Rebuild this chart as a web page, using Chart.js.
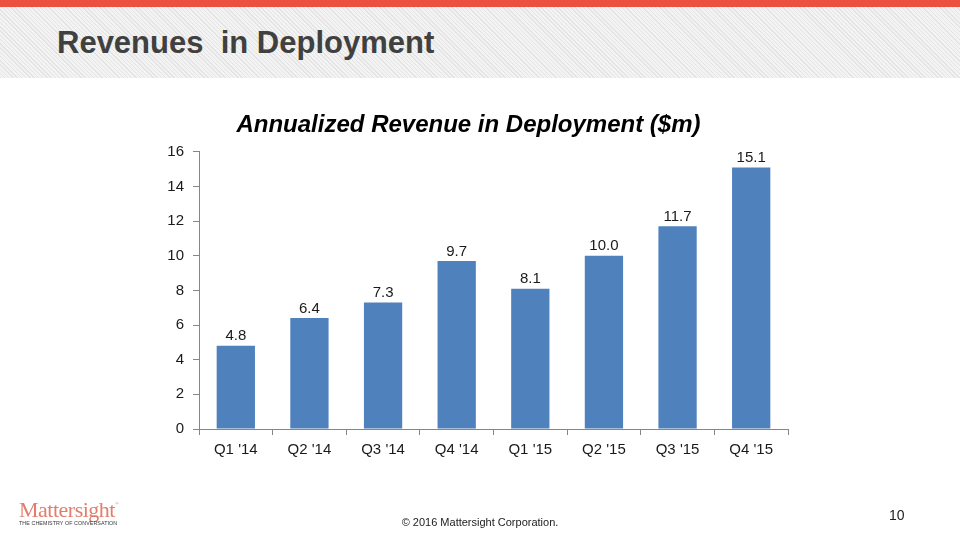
<!DOCTYPE html>
<html>
<head>
<meta charset="utf-8">
<script src="https://cdn.jsdelivr.net/npm/chart.js@4.4.1/dist/chart.umd.min.js"></script>
<style>
  html, body { margin:0; padding:0; background:#fff; }
  #slide { position:relative; width:960px; height:540px; overflow:hidden; background:#fff; font-family:"Liberation Sans", Arial, sans-serif; }
  #topbar { position:absolute; left:0; top:0; width:960px; height:7px; background:#ec5040; }
  #band { position:absolute; left:0; top:7px; width:960px; height:71px;
    background: repeating-linear-gradient(45deg, #e4e4e4 0px, #e4e4e4 1px, #f3f3f3 1px, #f3f3f3 3px); }
  #title { position:absolute; left:57px; top:25px; font-size:31px; font-weight:bold; color:#404040; white-space:pre; letter-spacing:0px; }
  #chart { position:absolute; left:0; top:0; width:960px; height:540px; }
  #logo { position:absolute; left:19px; top:497px; font-family:"Liberation Serif", "Times New Roman", serif; font-size:22px; color:#e27d6c; letter-spacing:-0.5px; }
  #logo sup { font-size:5px; vertical-align:top; position:relative; top:4px; }
  #tag { position:absolute; left:19px; top:520px; font-size:5.3px; color:#333; letter-spacing:0.1px; }
  #copy { position:absolute; left:0; width:960px; top:516px; text-align:center; font-family:"Liberation Sans Narrow","Liberation Sans", sans-serif; font-size:11px; color:#222; }
  #page { position:absolute; left:889px; top:507px; font-family:"Liberation Sans Narrow","Liberation Sans", sans-serif; font-size:14px; color:#222; }
</style>
</head>
<body>
<div id="slide">
  <div id="topbar"></div>
  <div id="band"></div>
  <div id="title">Revenues  in Deployment</div>
  <canvas id="chart" width="960" height="540"></canvas>
  <div id="logo">Mattersight<sup>®</sup></div>
  <div id="tag">THE CHEMISTRY OF CONVERSATION</div>
  <div id="copy">© 2016 Mattersight Corporation.</div>
  <div id="page">10</div>
</div>
<script>
const categories = ["Q1 '14", "Q2 '14", "Q3 '14", "Q4 '14", "Q1 '15", "Q2 '15", "Q3 '15", "Q4 '15"];
const revenue = [4.8, 6.4, 7.3, 9.7, 8.1, 10.0, 11.7, 15.1];
const yTicks = [0, 2, 4, 6, 8, 10, 12, 14, 16];
const chartTitle = "Annualized Revenue in Deployment ($m)";

const valueLabels = {
  id: 'valueLabels',
  afterDatasetsDraw(chart) {
    const ctx = chart.ctx;
    const meta = chart.getDatasetMeta(0);
    ctx.save();
    ctx.font = '15px "Liberation Sans", Arial, sans-serif';
    ctx.fillStyle = '#1a1a1a';
    ctx.textAlign = 'center';
    ctx.textBaseline = 'bottom';
    meta.data.forEach((bar, i) => {
      ctx.fillText(revenue[i].toFixed(1), bar.x, bar.y - 2);
    });
    ctx.restore();
  }
};

new Chart(document.getElementById('chart'), {
  type: 'bar',
  data: {
    labels: categories,
    datasets: [{
      data: revenue,
      backgroundColor: '#4f81bd',
      borderWidth: 0,
      categoryPercentage: 1.0,
      barPercentage: 0.52
    }]
  },
  options: {
    responsive: false,
    animation: false,
    layout: { padding: { left: 149, right: 172, top: 99, bottom: 75 } },
    plugins: {
      legend: { display: false },
      tooltip: { enabled: false },
      title: {
        display: true,
        text: chartTitle,
        color: '#000',
        font: { family: '"Liberation Sans", Arial, sans-serif', size: 24, weight: 'bold', style: 'italic' },
        padding: { top: 12, bottom: 12 }
      }
    },
    scales: {
      x: {
        grid: { display: true, drawOnChartArea: false, drawTicks: true, tickLength: 6, color: '#868686', offset: true },
        border: { color: '#868686', width: 1 },
        ticks: { color: '#1a1a1a', font: { family: '"Liberation Sans", Arial, sans-serif', size: 15 }, padding: 6, maxRotation: 0 }
      },
      y: {
        min: 0, max: 16,
        afterFit(scale) { scale.width = 50; },
        afterBuildTicks(scale) { scale.ticks = yTicks.map(v => ({ value: v })); },
        grid: { display: true, drawOnChartArea: false, drawTicks: true, tickLength: 6, color: '#868686' },
        border: { color: '#868686', width: 1 },
        ticks: { color: '#1a1a1a', font: { family: '"Liberation Sans", Arial, sans-serif', size: 15 }, padding: 9 }
      }
    }
  },
  plugins: [valueLabels]
});
</script>
</body>
</html>
